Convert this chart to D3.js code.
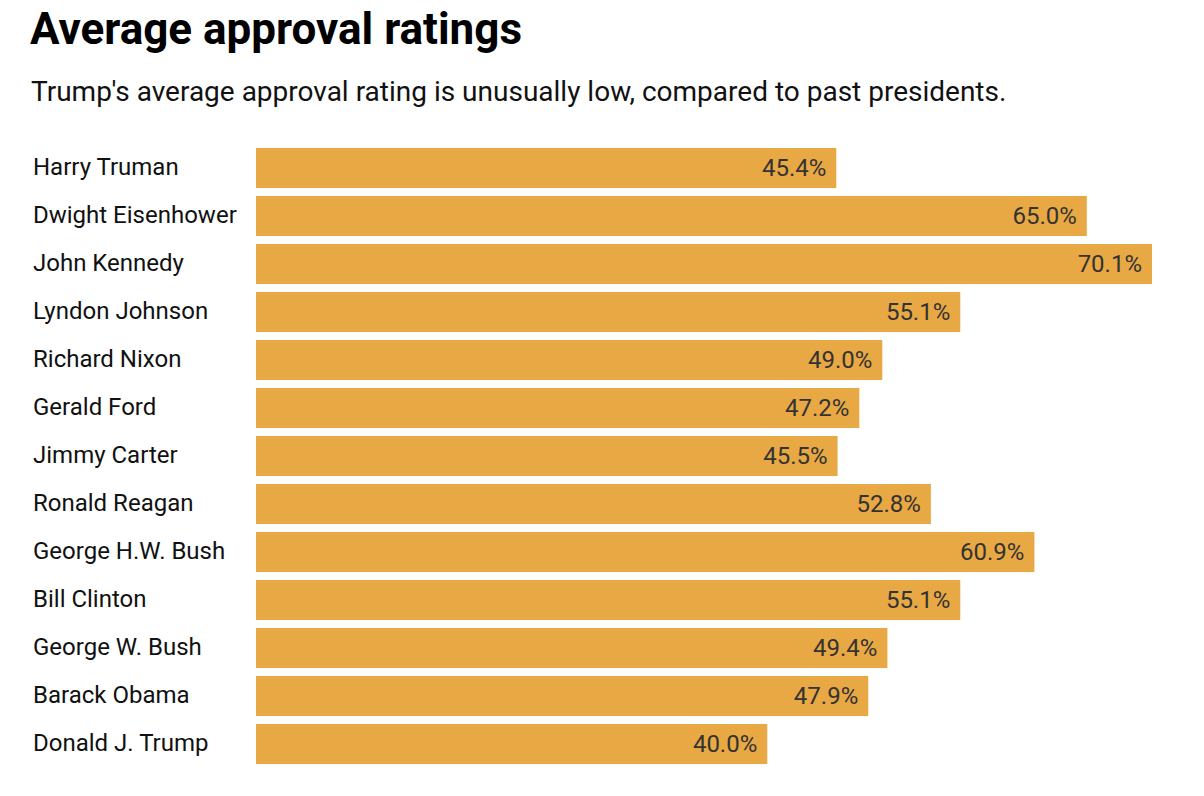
<!DOCTYPE html>
<html><head><meta charset="utf-8">
<script src="https://cdn.jsdelivr.net/npm/d3@7"></script>
<style>body{margin:0;background:#fff;} svg{display:block;font-family:Roboto,sans-serif;}</style>
</head><body>
<svg id="c" width="1204" height="796"></svg>
<script>
const presidents = ["Harry Truman","Dwight Eisenhower","John Kennedy","Lyndon Johnson","Richard Nixon","Gerald Ford","Jimmy Carter","Ronald Reagan","George H.W. Bush","Bill Clinton","George W. Bush","Barack Obama","Donald J. Trump"];
const approval = [45.4,65.0,70.1,55.1,49.0,47.2,45.5,52.8,60.9,55.1,49.4,47.9,40.0];
const title = "Average approval ratings";
const subtitle = "Trump's average approval rating is unusually low, compared to past presidents.";

const svg = d3.select("#c");
const x = d3.scaleLinear().domain([0, d3.max(approval)]).range([256, 1152]);
const yb = d3.scaleBand().domain(presidents).range([148, 764]).paddingInner(8/48).paddingOuter(0);

svg.append("text").attr("x",30).attr("y",44).attr("font-size",44).attr("font-weight",700).attr("fill","#000").text(title);
svg.append("text").attr("x",31).attr("y",101).attr("font-size",28).attr("fill","#111").text(subtitle);

const data = presidents.map((p,i)=>({p, v: approval[i]}));
const g = svg.append("g");
g.selectAll("rect").data(data).join("rect")
  .attr("x", x(0)).attr("y", d=>yb(d.p)).attr("width", d=>x(d.v)-x(0)).attr("height", yb.bandwidth())
  .attr("fill","#e8a843");
g.selectAll("text.name").data(data).join("text").attr("class","name")
  .attr("x",33).attr("y", d=>yb(d.p)+yb.bandwidth()/2 + 7)
  .attr("font-size",24).attr("fill","#111").text(d=>d.p);
g.selectAll("text.val").data(data).join("text").attr("class","val")
  .attr("x", d=>x(d.v)-10).attr("y", d=>yb(d.p)+yb.bandwidth()/2 + 8)
  .attr("text-anchor","end").attr("font-size",24).attr("fill","#333").text(d=>d3.format(".1f")(d.v)+"%");
</script>
</body></html>
